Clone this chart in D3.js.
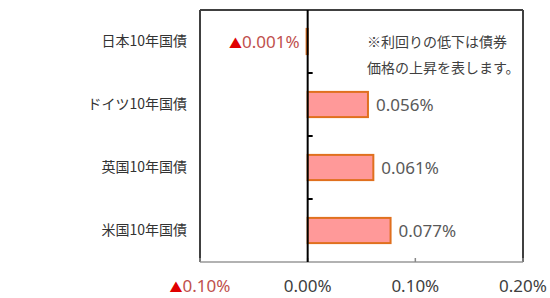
<!DOCTYPE html>
<html><head><meta charset="utf-8">
<script src="https://cdn.jsdelivr.net/npm/d3@7"></script>
<style>body{margin:0;background:#fff;}svg{display:block;font-family:"Noto Sans CJK JP","Noto Sans",sans-serif;}</style>
</head><body>
<script>
const categories = ["日本10年国債","ドイツ10年国債","英国10年国債","米国10年国債"];
const values = [-0.001, 0.056, 0.061, 0.077];
const ticks = [-0.10, 0.00, 0.10, 0.20];
const tickLabels = ["0.10%","0.00%","0.10%","0.20%"];
const valueLabels = ["0.001%","0.056%","0.061%","0.077%"];
const note = ["※利回りの低下は債券","価格の上昇を表します。"];

const W=550,H=298;
const svg=d3.select("body").append("svg").attr("width",W).attr("height",H);
const x=d3.scaleLinear().domain([-0.10,0.20]).range([200,523]);
const y=d3.scaleBand().domain(categories).range([10,262]).paddingInner(0.6).paddingOuter(0.3);
const yb=d3.scaleBand().domain(categories).range([10,262]);
const numFont='"Noto Sans","Noto Sans CJK JP",sans-serif';

// frame
svg.append("line").attr("x1",200).attr("x2",523).attr("y1",10).attr("y2",10).attr("stroke","#404040").attr("stroke-width",2);
svg.append("line").attr("x1",200).attr("x2",200).attr("y1",10).attr("y2",262).attr("stroke","#404040").attr("stroke-width",2);
svg.append("line").attr("x1",523).attr("x2",523).attr("y1",10).attr("y2",262).attr("stroke","#404040").attr("stroke-width",2);
svg.append("line").attr("x1",200).attr("x2",523).attr("y1",262).attr("y2",262).attr("stroke","#999").attr("stroke-width",1.5);
svg.selectAll(".bt").data(ticks).enter().append("line")
  .attr("x1",d=>x(d)).attr("x2",d=>x(d)).attr("y1",258).attr("y2",262).attr("stroke","#888").attr("stroke-width",1.5);

// bars
svg.selectAll(".bar").data(values).enter().append("rect")
  .attr("x",d=>Math.min(x(0),x(d))).attr("width",d=>Math.max(Math.abs(x(d)-x(0)),1))
  .attr("y",(d,i)=>y(categories[i])).attr("height",y.bandwidth())
  .attr("fill",(d)=>d<0?"none":"#FF9999").attr("stroke","#E0701E").attr("stroke-width",2);

// zero axis
svg.append("line").attr("x1",x(0)).attr("x2",x(0)).attr("y1",10).attr("y2",262).attr("stroke","#000").attr("stroke-width",2);
svg.selectAll(".zt").data(categories.slice(1)).enter().append("line")
  .attr("x1",x(0)).attr("x2",x(0)+5).attr("y1",d=>yb(d)).attr("y2",d=>yb(d)).attr("stroke","#000").attr("stroke-width",2);

// category labels
svg.selectAll(".cl").data(categories).enter().append("text")
  .attr("x",187).attr("y",d=>yb(d)+yb.bandwidth()/2).attr("dy","0.35em")
  .attr("text-anchor","end").attr("font-size",14).attr("fill","#333").text(d=>d);

function addLabel(sel, d, label){
  if(d<0){
    sel.append("tspan").attr("fill","#E00000").attr("font-size",13).attr("font-family",'"Noto Sans CJK JP"').text("▲");
    sel.append("tspan").attr("fill","#C0504D").text(label);
  } else sel.text(label);
}

// value labels
svg.selectAll(".vl").data(values).enter().append("text")
  .attr("x",d=>d<0?x(0)-8:x(d)+8).attr("y",(d,i)=>yb(categories[i])+yb.bandwidth()/2).attr("dy","0.36em")
  .attr("text-anchor",d=>d<0?"end":"start").attr("font-size",17).attr("font-family",numFont)
  .attr("fill","#595959").each(function(d,i){addLabel(d3.select(this),d,valueLabels[i]);});

// tick labels
svg.selectAll(".tl").data(ticks).enter().append("text")
  .attr("x",d=>x(d)).attr("y",292).attr("text-anchor","middle").attr("font-size",17).attr("font-family",numFont)
  .attr("fill","#404040").each(function(d,i){addLabel(d3.select(this),d,tickLabels[i]);});

// note
svg.selectAll(".nt").data(note).enter().append("text")
  .attr("x",367).attr("y",(d,i)=>47+i*26).attr("font-size",14).attr("fill","#404040").text(d=>d);
</script>
</body></html>
